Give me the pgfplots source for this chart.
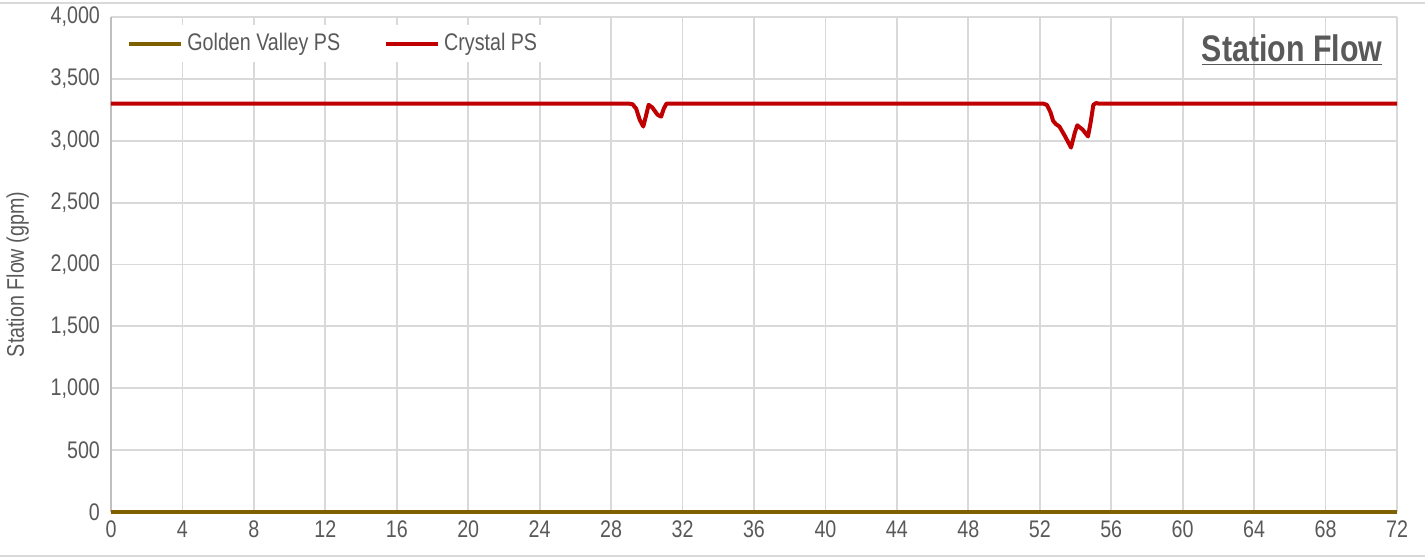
\documentclass[border=0pt]{standalone}
\usepackage{fontspec}
\setmainfont{Liberation Sans}[FakeStretch=0.82]
\usepackage{pgfplots}
\pgfplotsset{compat=1.18}
\definecolor{txtgray}{HTML}{595959}
\definecolor{gridgray}{HTML}{D9D9D9}
\definecolor{crystal}{HTML}{C00000}
\definecolor{golden}{HTML}{7F6000}
\begin{document}
\begin{tikzpicture}
\useasboundingbox (-55.5pt,-23.5pt) rectangle (657pt,256pt);
\draw[gridgray,line width=1pt] (-55.5pt,254.5pt) -- (657pt,254.5pt);
\draw[gridgray,line width=1pt] (-55.5pt,-22pt) -- (657pt,-22pt);
\begin{axis}[
  at={(0,0)}, anchor=south west,
  scale only axis, width=643pt, height=247.5pt,
  xmin=0, xmax=72, ymin=0, ymax=4000,
  xtick={0,4,...,72}, ytick={0,500,...,4000},
  grid=major,
  major grid style={gridgray, line width=0.9pt},
  axis line style={draw=none},
  axis y line*=left, axis x line*=bottom,
  tick style={draw=none},
  ticklabel style={font=\fontsize{12}{14}\selectfont, text=txtgray},
  /pgf/number format/assume math mode=true,
  /pgf/number format/1000 sep={,},
  scaled y ticks=false,
  xticklabel style={yshift=-1pt},
  yticklabel style={xshift=-2pt},
  ylabel={Station Flow (gpm)},
  ylabel style={font=\fontsize{12}{14}\selectfont, text=txtgray, yshift=4pt, xshift=-5pt},
  legend style={at={(rel axis cs:0,1)}, anchor=north west, xshift=6pt, yshift=-4pt,
    draw=none, fill=white, font=\fontsize{12}{14}\selectfont, text=txtgray,
    legend columns=2, inner sep=2pt,
    /tikz/every even column/.append style={column sep=20pt}},
  legend cell align=left,
  legend image code/.code={\draw[#1, line width=2pt] (0pt,0pt) -- (26pt,0pt);},
  clip=false,
]
\draw[color={rgb,255:red,191;green,191;blue,191}, line width=0.9pt] (rel axis cs:0,0) -- (rel axis cs:0,1);
\addplot[golden, line width=2pt] coordinates {(0,0) (72,0)};
\addlegendentry{Golden Valley PS}
\addplot[crystal, line width=2pt, line join=round] coordinates {
(0,3300) (29.0,3300) (29.2,3295) (29.4,3260) (29.6,3170) (29.8,3115) (29.95,3200) (30.1,3290)
(30.3,3270) (30.6,3210) (30.8,3195) (30.95,3260) (31.1,3300)
(52.2,3300) (52.4,3290) (52.6,3230) (52.75,3160) (52.9,3135) (53.1,3115) (53.4,3040)
(53.75,2945) (53.95,3060) (54.1,3125) (54.4,3090) (54.7,3035) (54.85,3150) (55.0,3290)
(55.15,3305) (55.3,3300)
(72,3300)};
\addlegendentry{Crystal PS}
\node[anchor=base east, font=\bfseries\fontsize{18.5}{20}\selectfont, text=txtgray, inner sep=0pt]
  at (axis cs:71.2,3640) {\underline{Station Flow}};
\end{axis}
\end{tikzpicture}
\end{document}
